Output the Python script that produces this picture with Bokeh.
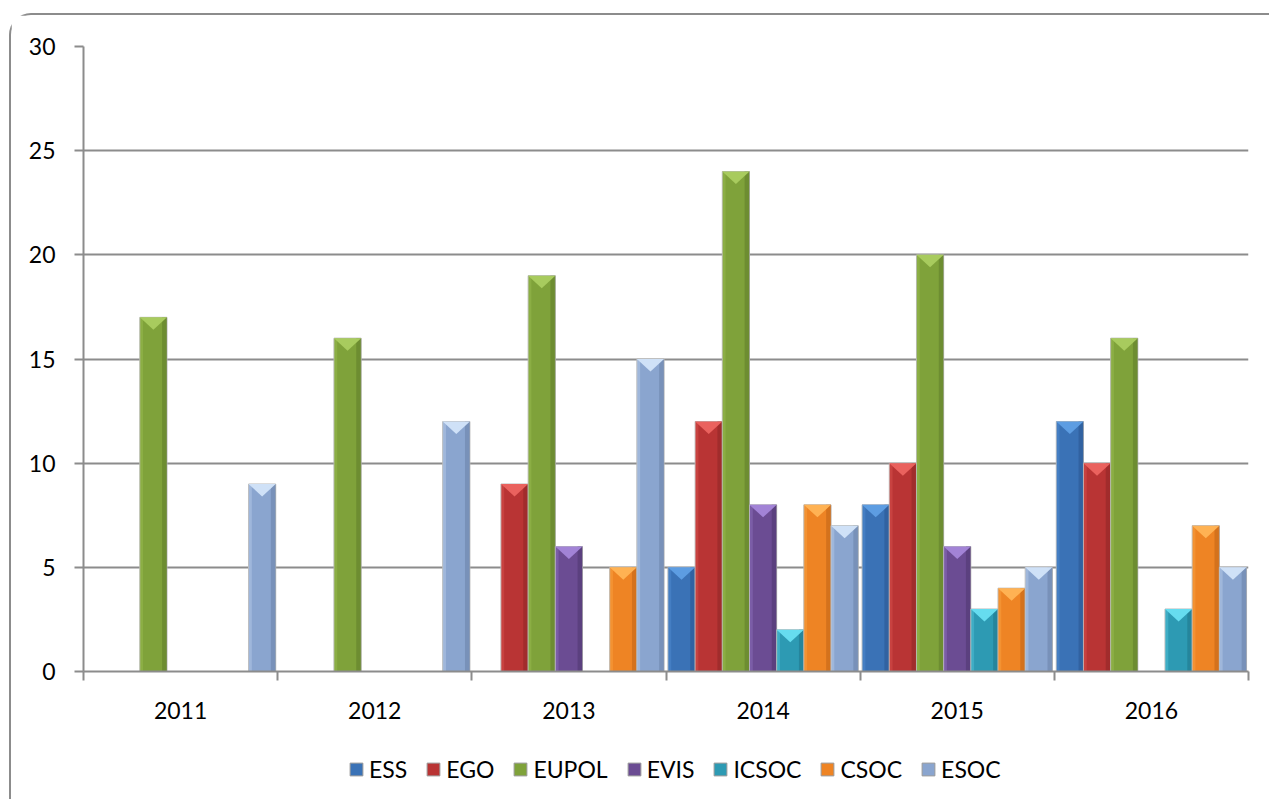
from bokeh.plotting import figure
from bokeh.layouts import column
from bokeh.models import ColumnDataSource, FixedTicker, Legend, LegendItem, Range1d
from bokeh.transform import dodge
from bokeh.embed import file_html
from bokeh.resources import INLINE

years = ["2011", "2012", "2013", "2014", "2015", "2016"]
series = ["ESS", "EGO", "EUPOL", "EVIS", "ICSOC", "CSOC", "ESOC"]
ESS = [0, 0, 0, 5, 8, 12]
EGO = [0, 0, 9, 12, 10, 10]
EUPOL = [17, 16, 19, 24, 20, 16]
EVIS = [0, 0, 6, 8, 6, 0]
ICSOC = [0, 0, 0, 2, 3, 3]
CSOC = [0, 0, 5, 8, 4, 7]
ESOC = [9, 12, 15, 7, 5, 5]
values = [ESS, EGO, EUPOL, EVIS, ICSOC, CSOC, ESOC]

body = ["#3a72b6", "#b93434", "#7fa23a", "#6b4c93", "#2d9ab3", "#ee8424", "#8aa5cf"]
light = ["#5d9de2", "#ea625e", "#a8cb5e", "#a283d6", "#66dcef", "#ffb253", "#cfe1f7"]
dark = ["#2a5590", "#8e2626", "#5f7c2a", "#4f376f", "#1f7489", "#bf6415", "#6a82a8"]

FONT = "Lato"
FS = "23px"
GRAY = "#8c8c8c"

p = figure(width=1258, height=726, output_backend="svg", toolbar_location=None,
           x_range=Range1d(0, 6), y_range=Range1d(0, 30),
           min_border_left=72, min_border_right=21, min_border_top=31, min_border_bottom=70)
p.outline_line_color = None

bw = 0.14
for k, (name, vals) in enumerate(zip(series, values)):
    xs = [i + 0.5 for i, v in enumerate(vals) if v > 0]
    ys = [v for v in vals if v > 0]
    off = (k - 3) * bw
    src = ColumnDataSource(dict(x=xs, top=ys))
    p.vbar(x=dodge("x", off, range=p.x_range), top="top", bottom=0, width=bw, source=src,
           fill_color=body[k], line_color="#b8b8b8", line_width=1)
    p.vbar(x=dodge("x", off + bw * 0.41, range=p.x_range), top="top", bottom=0, width=bw * 0.18,
           source=src, fill_color=dark[k], fill_alpha=0.55, line_color=None)
    p.vbar(x=dodge("x", off - bw * 0.44, range=p.x_range), top="top", bottom=0, width=bw * 0.12,
           source=src, fill_color=light[k], fill_alpha=0.3, line_color=None)
    cx = [[x + off - bw / 2, x + off + bw / 2, x + off] for x in xs]
    cy = [[t, t, t - 0.6] for t in ys]
    p.patches(xs=cx, ys=cy, fill_color=light[k], line_color=None)

ticks = [i + 0.5 for i in range(len(years))]
p.xaxis.ticker = FixedTicker(ticks=ticks, minor_ticks=list(range(len(years) + 1)))
p.xaxis.major_label_overrides = {t: y for t, y in zip(ticks, years)}
p.xaxis.major_tick_out = 0
p.xaxis.major_tick_in = 0
p.xaxis.minor_tick_out = 9
p.xaxis.minor_tick_in = 0
p.xaxis.minor_tick_line_color = GRAY
p.xaxis.minor_tick_line_width = 2
p.xaxis.axis_line_color = GRAY
p.xaxis.axis_line_width = 2
p.xaxis.major_label_standoff = 21

p.yaxis.ticker = FixedTicker(ticks=[0, 5, 10, 15, 20, 25, 30])
p.yaxis.major_tick_out = 9
p.yaxis.major_tick_in = 0
p.yaxis.minor_tick_out = 0
p.yaxis.minor_tick_in = 0
p.yaxis.major_tick_line_color = GRAY
p.yaxis.major_tick_line_width = 2
p.yaxis.axis_line_color = GRAY
p.yaxis.axis_line_width = 2
p.yaxis.major_label_standoff = 19

for ax in (p.xaxis, p.yaxis):
    ax.major_label_text_font = FONT
    ax.major_label_text_font_size = FS
    ax.major_label_text_color = "#000000"

p.xgrid.visible = False
p.ygrid.ticker = FixedTicker(ticks=[5, 10, 15, 20, 25, 30])
p.ygrid.grid_line_color = GRAY
p.ygrid.grid_line_width = 2

# legend strip (swatch renderers sit far outside the visible ranges)
lg = figure(width=1258, height=58, output_backend="svg", toolbar_location=None,
            x_range=Range1d(0, 1), y_range=Range1d(0, 1), x_axis_type=None, y_axis_type=None,
            min_border=0)
lg.outline_line_color = None
lg.grid.visible = False
items = []
for k, name in enumerate(series):
    r = lg.vbar(x=[-50], top=[-40], bottom=[-41], width=1, fill_color=body[k], line_color="#9a9a9a")
    items.append(LegendItem(label=name, renderers=[r]))
legend = Legend(items=items, orientation="horizontal", location=(265, 16),
                label_text_font=FONT, label_text_font_size=FS, label_text_color="#000000",
                glyph_width=16, glyph_height=16, label_standoff=5, spacing=18,
                border_line_color=None, background_fill_alpha=0, margin=0, padding=0)
lg.add_layout(legend, "center")

layout = column(p, lg, spacing=0)
layout.styles = {"border-left": "2px solid " + GRAY, "border-top": "2px solid " + GRAY,
                 "border-top-left-radius": "22px", "margin-left": "9px", "margin-top": "13px"}

open("out.html", "w").write(file_html(layout, INLINE))
